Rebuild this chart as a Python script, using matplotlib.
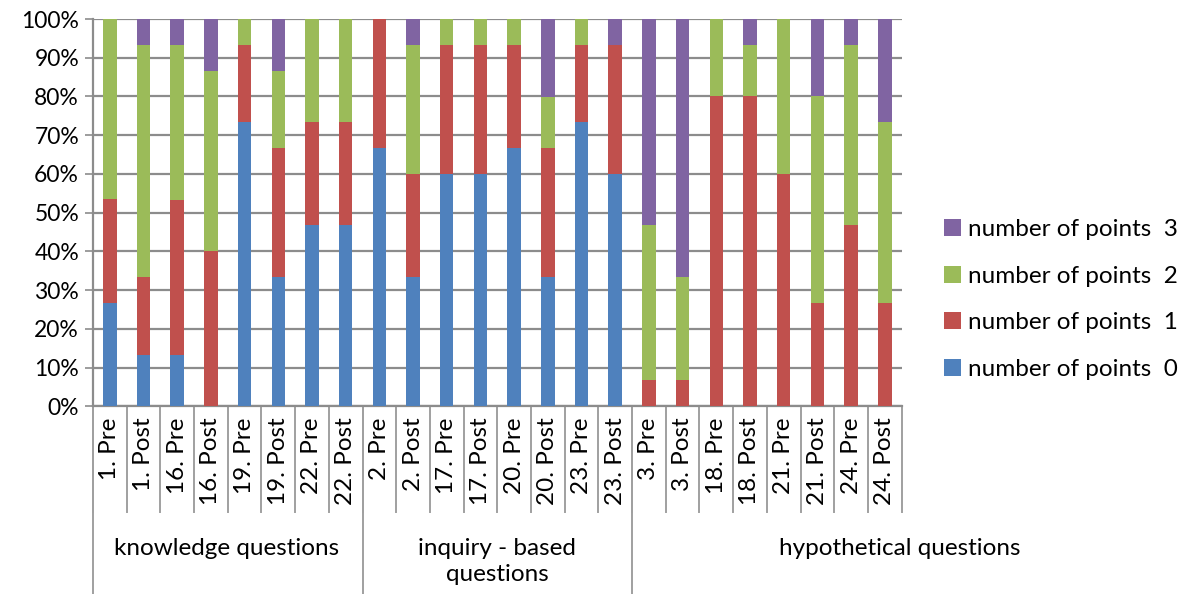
import matplotlib.pyplot as plt
from matplotlib.transforms import blended_transform_factory

plt.rcParams['font.family'] = ['Lato', 'DejaVu Sans']

# category labels
categories = ["1. Pre", "1. Post", "16. Pre", "16. Post", "19. Pre", "19. Post", "22. Pre", "22. Post",
              "2. Pre", "2. Post", "17. Pre", "17. Post", "20. Pre", "20. Post", "23. Pre", "23. Post",
              "3. Pre", "3. Post", "18. Pre", "18. Post", "21. Pre", "21. Post", "24. Pre", "24. Post"]
groups = ["knowledge questions", "inquiry - based\nquestions", "hypothetical questions"]
group_sizes = [8, 8, 8]

# percentages per point score
points0 = [26.7, 13.3, 13.3, 0, 73.3, 33.3, 46.7, 46.7,
           66.7, 33.3, 60.0, 60.0, 66.7, 33.3, 73.3, 60.0,
           0, 0, 0, 0, 0, 0, 0, 0]
points1 = [26.7, 20.0, 40.0, 40.0, 20.0, 33.3, 26.7, 26.7,
           33.3, 26.7, 33.3, 33.3, 26.7, 33.3, 20.0, 33.3,
           6.7, 6.7, 80.0, 80.0, 60.0, 26.7, 46.7, 26.7]
points2 = [46.7, 60.0, 40.0, 46.7, 6.7, 20.0, 26.7, 26.7,
           0, 33.3, 6.7, 6.7, 6.7, 13.3, 6.7, 0,
           40.0, 26.7, 20.0, 13.3, 40.0, 53.3, 46.7, 46.7]
points3 = [0, 6.7, 6.7, 13.3, 0, 13.3, 0, 0,
           0, 6.7, 0, 0, 0, 20.0, 0, 6.7,
           53.3, 66.7, 0, 6.7, 0, 20.0, 6.7, 26.7]

series = [points0, points1, points2, points3]
labels = ["number of points  0", "number of points  1", "number of points  2", "number of points  3"]
colors = ["#4F81BD", "#C0504D", "#9BBB59", "#8064A2"]

fig = plt.figure(figsize=(11.84, 5.94), dpi=100)
ax = fig.add_axes([0.0785, 0.316, 0.683, 0.652])

x = list(range(len(categories)))
bottom = [0.0] * len(categories)
handles = []
for vals, lab, col in zip(series, labels, colors):
    h = ax.bar(x, vals, width=0.4, bottom=bottom, color=col, label=lab, zorder=3)
    handles.append(h)
    bottom = [b + v for b, v in zip(bottom, vals)]

ax.set_xlim(-0.5, len(categories) - 0.5)
ax.set_ylim(0, 100)
ax.set_yticks(range(0, 101, 10))
ax.set_yticklabels([f"{v}%" for v in range(0, 101, 10)], fontsize=16.5)
ax.yaxis.grid(True, color="#8c8c8c", linewidth=1.6, zorder=0)
ax.set_axisbelow(True)

ax.set_xticks(x)
ax.set_xticklabels(categories, rotation=90, fontsize=17.5)
ax.tick_params(axis="x", length=0, pad=8)
ax.tick_params(axis="y", length=6, color="#8c8c8c", width=1.2, pad=4)

for s in ["top", "right"]:
    ax.spines[s].set_visible(False)
ax.spines["left"].set_color("#8c8c8c")
ax.spines["left"].set_linewidth(1.6)
ax.spines["bottom"].set_color("#8c8c8c")
ax.spines["bottom"].set_linewidth(1.6)

# category separators and group separators below the axis
trans = blended_transform_factory(ax.transData, ax.transAxes)
for i in range(len(categories) + 1):
    ax.plot([i - 0.5, i - 0.5], [0, -0.274], transform=trans, color="#a0a0a0",
            linewidth=1.4, clip_on=False)
edge = -0.5
for g, n in zip(groups, group_sizes):
    ax.plot([edge, edge], [0, -0.49], transform=trans, color="#a0a0a0",
            linewidth=1.4, clip_on=False)
    edge += n

ftrans = blended_transform_factory(fig.transFigure, ax.transAxes)
group_x = [227 / 1184, 497 / 1184, 900 / 1184]
for g, gx in zip(groups, group_x):
    ax.text(gx, -0.34, g, transform=ftrans, ha="center", va="top",
            fontsize=17.5, linespacing=1.3)

fig.legend(handles[::-1], labels[::-1], loc="center left",
           bbox_to_anchor=(944 / 1184, 0.496), borderaxespad=0, borderpad=0,
           frameon=False, fontsize=17.5, handlelength=0.7, handleheight=0.7,
           handletextpad=0.3, labelspacing=1.05)

fig.savefig("out.png", dpi=100)
